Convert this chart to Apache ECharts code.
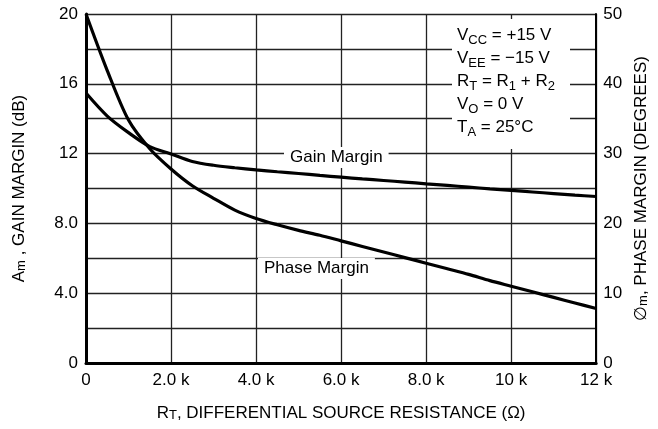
<!DOCTYPE html>
<html>
<head>
<meta charset="utf-8">
<script src="https://cdn.jsdelivr.net/npm/echarts@6/dist/echarts.min.js"></script>
<style>
  html, body { margin: 0; padding: 0; background: #fff; }
  #chart { width: 658px; height: 429px; }
</style>
</head>
<body>
<div id="chart"></div>
<script>
// R_T in k ohm
var resistanceK = [0, 0.5, 1.0, 1.5, 2.0, 2.5, 3.0, 3.5, 4.0, 4.5, 5.0, 5.5, 6.0, 6.5, 7.0, 7.5, 8.0, 8.5, 9.0, 9.5, 10, 10.5, 11, 11.5, 12];
// gain margin (dB), left axis
var gainDb = [15.47, 14.15, 13.2, 12.4, 11.98, 11.55, 11.33, 11.19, 11.07, 10.96, 10.86, 10.75, 10.65, 10.55, 10.46, 10.37, 10.27, 10.18, 10.08, 9.98, 9.89, 9.8, 9.71, 9.62, 9.54];
// phase margin (degrees), right axis
var phaseDeg = [50, 41.9, 34.8, 30.7, 27.8, 25.4, 23.6, 21.9, 20.7, 19.8, 19.0, 18.3, 17.5, 16.7, 15.9, 15.1, 14.3, 13.5, 12.7, 11.8, 11.0, 10.2, 9.4, 8.6, 7.8];

var leftTicks = { 0: "0", 4: "4.0", 8: "8.0", 12: "12", 16: "16", 20: "20" };
var conditions = [
  "V{s|CC} = +15 V",
  "V{s|EE} = \u221215 V",
  "R{s|T} = R{s|1} + R{s|2}",
  "V{s|O} = 0 V",
  "T{s|A} = 25\u00B0C"
];

var FONT = '"Liberation Sans", Arial, sans-serif';
var subStyle = { fontSize: 13, fontFamily: FONT, color: "#000", verticalAlign: "bottom", lineHeight: 12 };

function pair(x, y) {
  return x.map(function (v, i) { return [v, y[i]]; });
}

var myChart = echarts.init(document.getElementById("chart"));
myChart.setOption({
  animation: false,
  textStyle: { fontFamily: FONT },
  grid: { left: 86, right: 60, top: 14, bottom: 66 },
  xAxis: {
    type: "value",
    min: 0,
    max: 12,
    interval: 2,
    name: "R{s|T}, DIFFERENTIAL SOURCE RESISTANCE (\u03A9)",
    nameLocation: "middle",
    nameGap: 42,
    nameTextStyle: { fontSize: 17, color: "#000", fontFamily: FONT, rich: { s: subStyle } },
    axisLine: { show: true, onZero: false, lineStyle: { color: "#000", width: 3 } },
    axisTick: { show: false },
    axisLabel: {
      color: "#000",
      fontSize: 17,
      margin: 9,
      formatter: function (v) {
        if (v === 0) return "0";
        return (v < 10 ? v.toFixed(1) : v) + " k";
      }
    },
    splitLine: { show: true, lineStyle: { color: "#222", width: 1.3 } }
  },
  yAxis: [
    {
      type: "value",
      min: 0,
      max: 20,
      interval: 2,
      name: "A{s|m} , GAIN MARGIN (dB)",
      nameLocation: "middle",
      nameRotate: 90,
      nameGap: 58,
      nameTextStyle: { fontSize: 17, color: "#000", fontFamily: FONT, rich: { s: subStyle } },
      axisLine: { show: true, lineStyle: { color: "#000", width: 3 } },
      axisTick: { show: false },
      axisLabel: {
        color: "#000",
        fontSize: 17,
        margin: 8,
        formatter: function (v) { return leftTicks[v] || ""; }
      },
      splitLine: { show: true, lineStyle: { color: "#222", width: 1.3 } }
    },
    {
      type: "value",
      min: 0,
      max: 50,
      interval: 10,
      position: "right",
      name: "\u2205{s|m}, PHASE MARGIN (DEGREES)",
      nameLocation: "middle",
      nameRotate: 90,
      nameGap: 36,
      nameTextStyle: { fontSize: 17, color: "#000", fontFamily: FONT, rich: { s: subStyle } },
      axisLine: { show: true, lineStyle: { color: "#000", width: 2 } },
      axisTick: { show: false },
      axisLabel: { color: "#000", fontSize: 17, margin: 7 },
      splitLine: { show: false }
    }
  ],
  series: [
    {
      name: "Gain Margin",
      type: "line",
      yAxisIndex: 0,
      data: pair(resistanceK, gainDb),
      smooth: 0.3,
      showSymbol: false,
      lineStyle: { color: "#000", width: 3.2 }
    },
    {
      name: "Phase Margin",
      type: "line",
      yAxisIndex: 1,
      data: pair(resistanceK, phaseDeg),
      smooth: 0.3,
      showSymbol: false,
      lineStyle: { color: "#000", width: 3.2 }
    }
  ],
  graphic: [
    {
      type: "rect",
      shape: { x: 452, y: 19, width: 118, height: 130 },
      style: { fill: "#fff" },
      z: 10
    },
    {
      type: "text",
      left: 457,
      top: 24,
      z: 11,
      style: {
        text: conditions.join("\n"),
        fontSize: 17,
        fontFamily: FONT,
        fill: "#000",
        lineHeight: 23,
        rich: { s: subStyle }
      }
    },
    {
      type: "text",
      left: 284,
      top: 147,
      z: 11,
      style: {
        text: "Gain Margin",
        fontSize: 17,
        fontFamily: FONT,
        fill: "#000",
        backgroundColor: "#fff",
        padding: [2, 6, 2, 6]
      }
    },
    {
      type: "text",
      left: 258,
      top: 258,
      z: 11,
      style: {
        text: "Phase Margin",
        fontSize: 17,
        fontFamily: FONT,
        fill: "#000",
        backgroundColor: "#fff",
        padding: [2, 6, 2, 6]
      }
    }
  ]
});
</script>
</body>
</html>
